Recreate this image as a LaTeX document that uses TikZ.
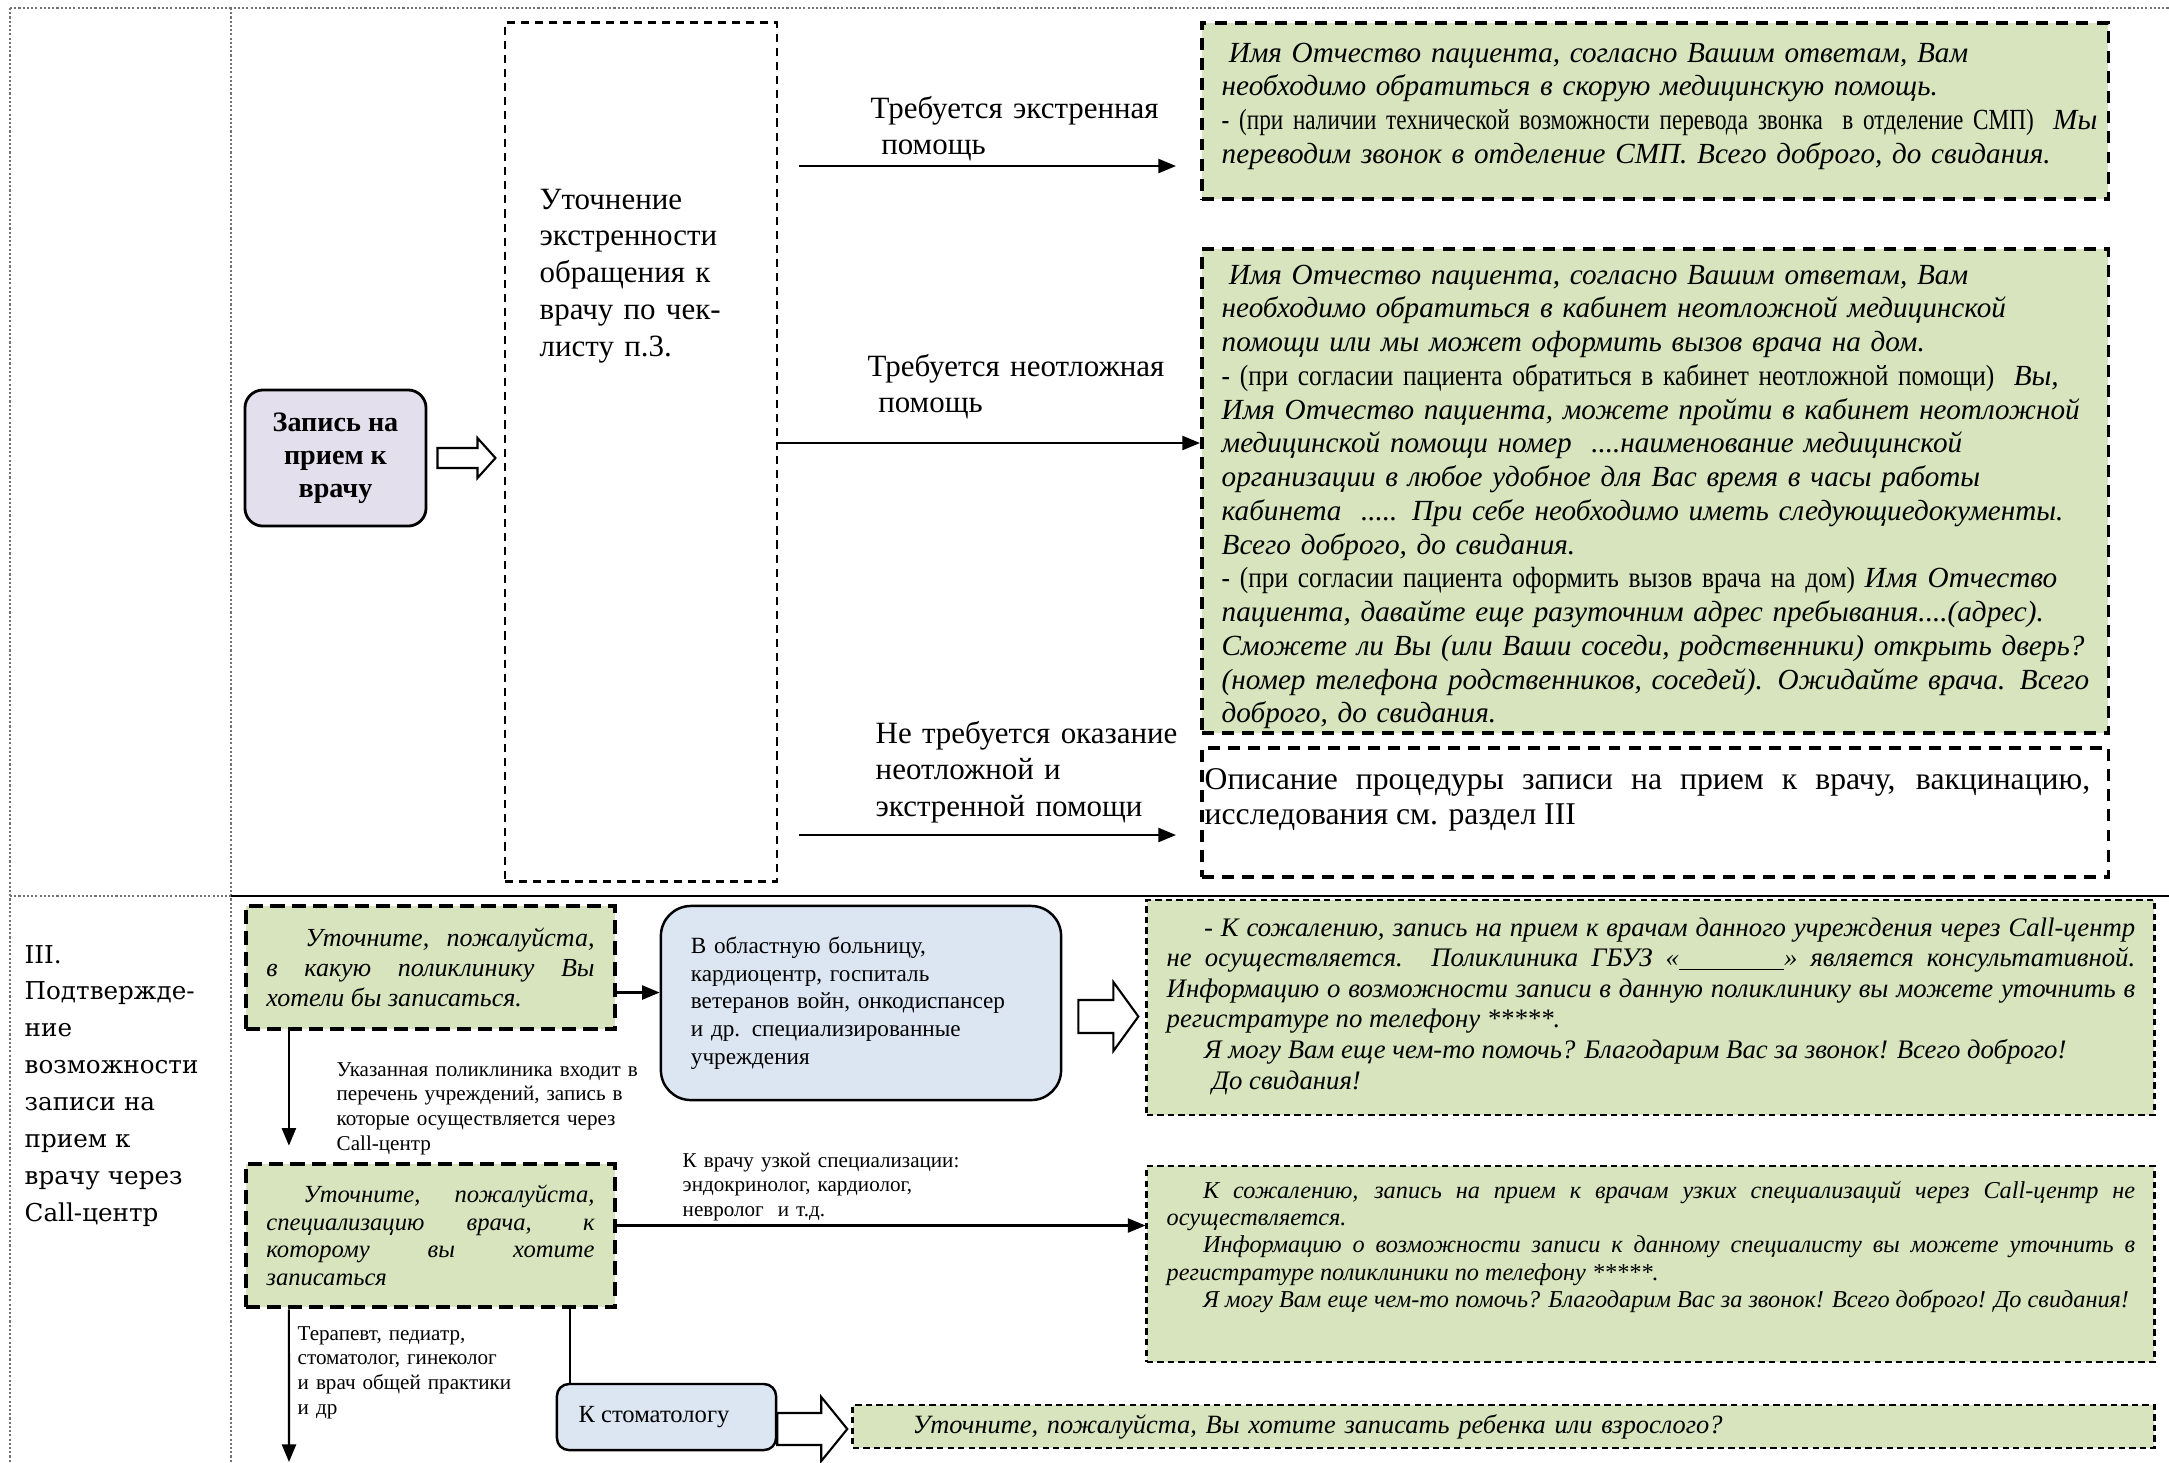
\documentclass[tikz,border=0pt]{standalone}
\usepackage{fontspec}
\setmainfont{Liberation Serif}
\newfontfamily\slimfont[FakeStretch=0.795]{Liberation Serif}
\newfontfamily\halfslimfont[FakeStretch=0.87]{Liberation Serif}
\newfontfamily\colfont{DejaVu Serif}
\usetikzlibrary{arrows.meta}

\definecolor{boxGreen}{RGB}{215,228,189}
\definecolor{boxLilac}{RGB}{228,223,236}
\definecolor{boxBlue}{RGB}{220,230,242}

\tikzset{
	grid line/.style={draw=black!55, line width=0.4pt, dash pattern=on 0.6pt off 0.6pt},
	flow/.style={-{Triangle[length=5pt,width=4pt]}, line width=0.6pt},
	block arrow/.style={draw, fill=white, line width=0.6pt},
	checkbox/.style={draw, line width=0.8pt, dash pattern=on 2.3pt off 1.7pt},
	answer/.style={draw, fill=boxGreen, line width=1pt, dash pattern=on 3.4pt off 2.3pt},
	plainanswer/.style={draw, line width=1pt, dash pattern=on 3.4pt off 2.3pt},
	question/.style={draw, fill=boxGreen, line width=1.3pt, dash pattern=on 4pt off 2pt},
	reply/.style={draw, fill=boxGreen, line width=0.7pt, dash pattern=on 1.8pt off 1.2pt},
	bluebox/.style={draw, fill=boxBlue, line width=0.7pt},
	caption/.style={anchor=base west, inner sep=0, align=left, font=\fontsize{8.8}{10.5}\selectfont},
	note/.style={anchor=base west, inner sep=0, align=left, font=\fontsize{6}{7.1}\selectfont},
	script/.style={anchor=base west, inner sep=0, align=left, font=\fontsize{8.3}{9.6}\selectfont\itshape},
}

\begin{document}
\begin{tikzpicture}[x=0.01cm, y=-0.01cm]
	\useasboundingbox (0,0) rectangle (2169,1462);
	% table frame
	\draw[grid line] (10,8) -- (2169,8);
	\draw[grid line] (10,8) -- (10,1462);
	\draw[grid line] (231,8) -- (231,1462);
	\draw[grid line] (10,896) -- (231,896);
	\draw[line width=0.8pt] (231,896) -- (2169,896);

	% upper part: urgency check
	\node[draw, fill=boxLilac, rounded corners=0.18cm, line width=0.8pt, minimum width=1.81cm, minimum height=1.36cm,
		align=center, font=\fontsize{8}{9.4}\selectfont\bfseries] (visit) at (335.5,458) {Запись на\\прием к\\врачу};
	\node[checkbox, minimum width=2.72cm, minimum height=8.58cm] (check) at (641,452) {};
	\node[caption, text width=2.3cm] (checktext) at (539,209) {Уточнение\\экстренности\\обращения к\\врачу по чек-\\листу п.3.};
	\draw[block arrow] ([xshift=0.1cm,yshift=0.1cm]visit.east) -- ++(40,0) -- ++(0,-10) -- ++(18,20) -- ++(-18,20) -- ++(0,-10) -- ++(-40,0) -- cycle;

	% answers
	\node[answer, minimum width=9.06cm, minimum height=1.76cm] (emerg) at (1655,111) {};
	\node[script, text width=9.5cm] (emergtext) at (1221,62) {\hspace*{2pt}Имя Отчество пациента, согласно Вашим ответам, Вам\\
		необходимо обратиться в скорую медицинскую помощь.\\
		{\slimfont\upshape - (при наличии технической возможности перевода звонка\ \ в отделение СМП)}\ \ Мы\\
		переводим звонок в отделение СМП. Всего доброго, до свидания.};
	\node[answer, minimum width=9.06cm, minimum height=4.84cm] (urgent) at (1655,491) {};
	\node[script, text width=9.5cm] (urgenttext) at (1221,284) {\hspace*{2pt}Имя Отчество пациента, согласно Вашим ответам, Вам\\
		необходимо обратиться в кабинет неотложной медицинской\\
		помощи или мы может оформить вызов врача на дом.\\
		{\halfslimfont\upshape - (при согласии пациента обратиться в кабинет неотложной помощи)}\ \ Вы,\\
		Имя Отчество пациента, можете пройти в кабинет неотложной\\
		медицинской помощи номер \ ....наименование медицинской\\
		организации в любое удобное для Вас время в часы работы\\
		кабинета \ ..... При себе необходимо иметь следующиедокументы.\\
		Всего доброго, до свидания.\\
		{\halfslimfont\upshape - (при согласии пациента оформить вызов врача на дом)} Имя Отчество\\
		пациента, давайте еще разуточним адрес пребывания....(адрес).\\
		Сможете ли Вы (или Ваши соседи, родственники) открыть дверь?\\
		(номер телефона родственников, соседей). Ожидайте врача. Всего\\
		доброго, до свидания.};
	\node[plainanswer, minimum width=9.06cm, minimum height=1.29cm] (plan) at (1655,812.5) {};
	\node[anchor=base west, inner sep=0, text width=8.85cm, align=justify, font=\fontsize{9}{10.2}\selectfont] (plantext) at (1204,789)
		{Описание процедуры записи на прием к врачу, вакцинацию,\linebreak исследования см. раздел III};

	% branches
	\coordinate (c1) at (799,166);
	\coordinate (c2) at (777,443);
	\coordinate (c3) at (799,835);
	\draw[flow, shorten >=0.24cm] (c1) -- (c1 -| emerg.west);
	\draw[flow] (c2) -- (c2 -| urgent.west);
	\draw[flow, shorten >=0.24cm] (c3) -- (c3 -| plan.west);
	\node[caption, text width=4cm] (lblemerg) at (870,118) {Требуется экстренная\\\hspace*{3pt}помощь};
	\node[caption, text width=4cm] (lblurgent) at (867,376) {Требуется неотложная\\\hspace*{3pt}помощь};
	\node[caption, text width=4cm] (lblplan) at (875,743) {Не требуется оказание\\неотложной и\\экстренной помощи};

	% lower part: section III
	\node[anchor=base west, inner sep=0, text width=2.05cm, align=left, font=\colfont\fontsize{7}{10.5}\selectfont] (secthree) at (24,963)
		{III.\\Подтвержде-\\ние\\возможности\\записи на\\прием к\\врачу через\\Call-центр};
	\node[question, minimum width=3.69cm, minimum height=1.23cm, inner xsep=0.2cm, text width=3.28cm, align=justify,
		font=\fontsize{7.4}{8.5}\selectfont\itshape] (askclinic) at (430.5,967.5)
		{\hspace*{1.5em}Уточните, пожалуйста,\linebreak в какую поликлинику Вы\linebreak хотели бы записаться.};
	\node[bluebox, rounded corners=0.3cm, minimum width=4cm, minimum height=1.94cm, text width=3.4cm, align=left,
		font=\fontsize{6.6}{7.85}\selectfont] (hospitals) at (861,1003)
		{В областную больницу,\\кардиоцентр, госпиталь\\ветеранов войн, онкодиспансер\\и др. специализированные\\учреждения};
	\node[reply, minimum width=10.07cm, minimum height=2.15cm] (callinfo) at (1650.5,1007.5) {};
	\node[anchor=base west, inner sep=0, text width=9.68cm, align=justify, font=\fontsize{7.6}{8.7}\selectfont\itshape] (callinfotext) at (1166,936)
		{\hspace*{1.4em}- К сожалению, запись на прием к врачам данного учреждения через Call-центр\linebreak
		не осуществляется. Поликлиника ГБУЗ «\rule[-1pt]{1.05cm}{0.4pt}» является консультативной.\linebreak
		Информацию о возможности записи в данную поликлинику вы можете уточнить в\linebreak
		регистратуре по телефону *****.\par
		\hspace*{1.4em}Я могу Вам еще чем-то помочь? Благодарим Вас за звонок! Всего доброго!\par
		\hspace*{1.7em}До свидания!};
	\draw[block arrow] ([xshift=0.16cm,yshift=0.03cm]hospitals.east) -- ++(35,0) -- ++(0,-18) -- ++(25,34.5) -- ++(-25,34.5) -- ++(0,-18) -- ++(-35,0) -- cycle;

	\node[question, minimum width=3.69cm, minimum height=1.43cm, inner xsep=0.2cm, text width=3.28cm, align=justify,
		font=\fontsize{7}{7.8}\selectfont\itshape] (spec) at (430.5,1235.5)
		{\hspace*{1.5em}Уточните, пожалуйста,\linebreak специализацию врача, к\linebreak которому вы хотите\linebreak записаться};
	\node[reply, minimum width=10.07cm, minimum height=1.96cm] (narrow) at (1650.5,1264) {};
	\node[anchor=base west, inner sep=0, text width=9.68cm, align=justify, font=\fontsize{6.9}{7.8}\selectfont\itshape] (narrowtext) at (1166,1198)
		{\hspace*{1.5em}К сожалению, запись на прием к врачам узких специализаций через Call-центр не\linebreak
		осуществляется.\par
		\hspace*{1.5em}Информацию о возможности записи к данному специалисту вы можете уточнить в\linebreak
		регистратуре поликлиники по телефону *****.\par
		\hspace*{1.5em}Я могу Вам еще чем-то помочь? Благодарим Вас за звонок! Всего доброго! До свидания!};
	\node[bluebox, rounded corners=0.12cm, minimum width=2.19cm, minimum height=0.66cm, font=\fontsize{7}{8}\selectfont] (dental) at (666.5,1417) {К стоматологу\hspace*{0.25cm}};
	\node[reply, minimum width=13.01cm, minimum height=0.43cm, inner xsep=0.6cm, inner ysep=1pt, text width=11.81cm, align=left,
		font=\fontsize{7.5}{9}\selectfont\itshape] (askage) at (1503.5,1426.5) {Уточните, пожалуйста, Вы хотите записать ребенка или взрослого?};
	\draw[block arrow] ([yshift=0.04cm]dental.east) -- ++(44,0) -- ++(0,-16) -- ++(26,32) -- ++(-26,32) -- ++(0,-16) -- ++(-44,0) -- cycle;

	% connectors of section III
	\coordinate (c4) at ([yshift=-0.25cm]askclinic.east);
	\coordinate (c5) at ([xshift=-1.415cm]askclinic.south);
	\coordinate (c6) at ([yshift=0.1cm]spec.east);
	\coordinate (c7) at ([xshift=-1.415cm]spec.south);
	\coordinate (c8) at ([xshift=-0.965cm]dental.north);
	\coordinate (pagefoot) at (289,1462);
	\draw[flow] (c4) -- (c4 -| hospitals.west);
	\draw[flow, shorten >=0.16cm] (c5) -- (c5 |- spec.north);
	\draw[flow] (c6) -- (c6 -| narrow.west);
	\draw[flow] (c7) -- (pagefoot);
	\draw[line width=0.6pt] (c8 |- spec.south) -- (c8);
	\node[note, text width=3.4cm] (notelist) at (336,1076) {Указанная поликлиника входит в\\перечень учреждений, запись в\\которые осуществляется через\\Call-центр};
	\node[note, text width=3.4cm] (notenarrow) at (682,1167) {К врачу узкой специализации:\\эндокринолог, кардиолог,\\невролог\ \ и т.д.};
	\node[note, text width=2.6cm] (notegeneral) at (297,1340) {Терапевт, педиатр,\\стоматолог, гинеколог\\и врач общей практики\\и др};
\end{tikzpicture}
\end{document}
